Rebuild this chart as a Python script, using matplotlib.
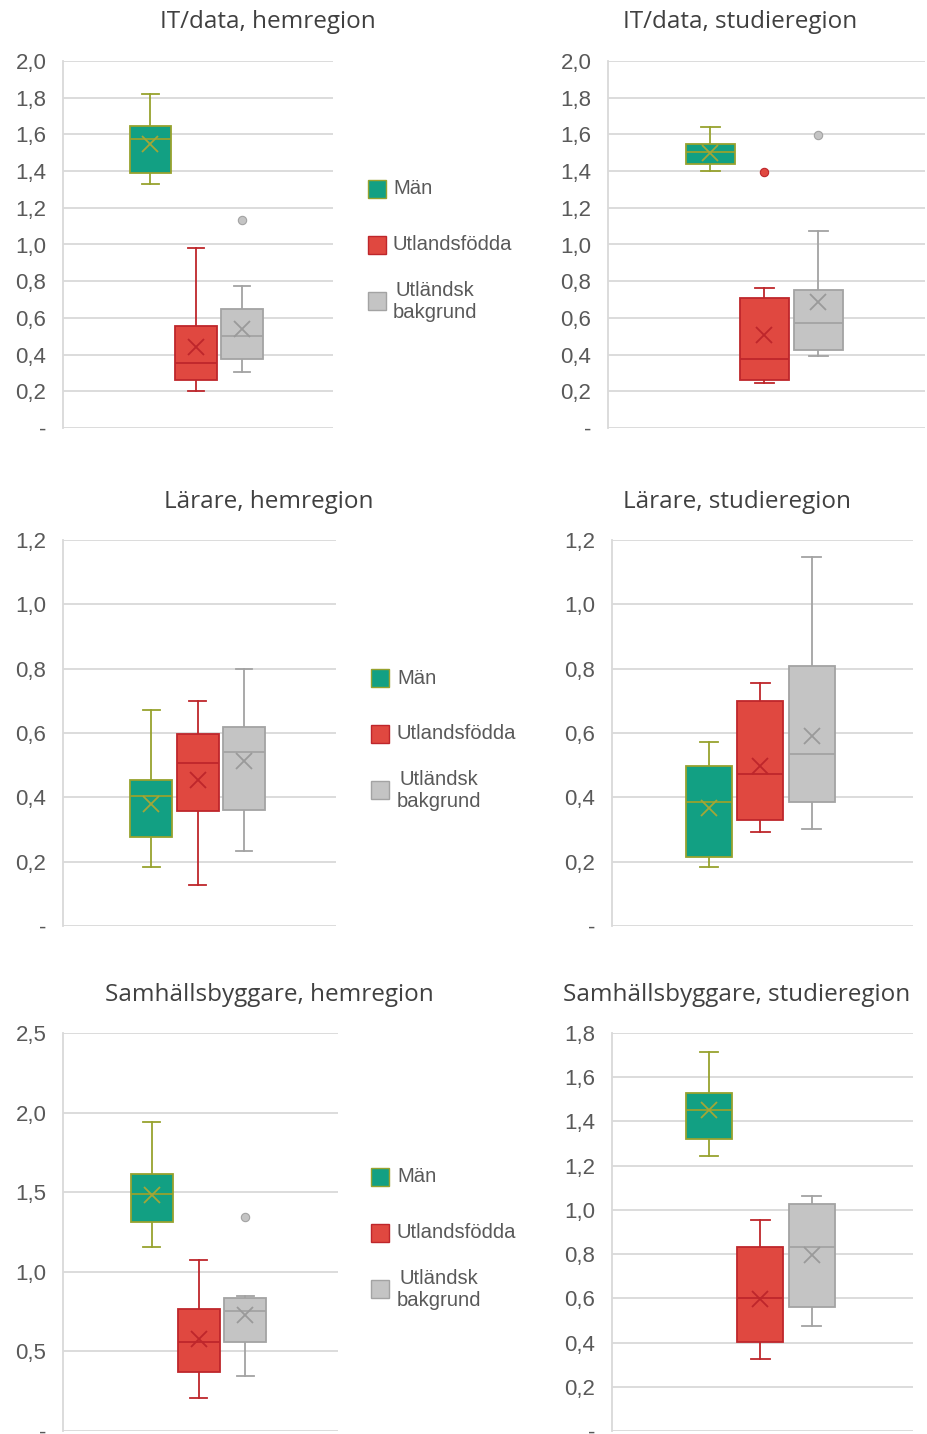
import matplotlib
matplotlib.use('Agg')
import matplotlib.pyplot as plt
from matplotlib.patches import Rectangle
from matplotlib.ticker import FuncFormatter, MultipleLocator

W, H = 927, 1434

groups = ['Män', 'Utlandsfödda', 'Utländsk\nbakgrund']
face_colors = ['#12A083', '#E04840', '#C4C4C4']
edge_colors = ['#97A22E', '#BE262B', '#A3A3A3']
mean_colors = ['#A3A637', '#BE262B', '#9A9A9A']

# per group: whisker low, q1, median, q3, whisker high, mean
it_hem = [[1.33, 1.39, 1.575, 1.648, 1.82, 1.55],
          [0.20, 0.262, 0.356, 0.555, 0.983, 0.439],
          [0.307, 0.374, 0.502, 0.650, 0.773, 0.537]]
it_hem_fliers = [[], [], [1.133]]

it_stud = [[1.403, 1.437, 1.506, 1.548, 1.641, 1.497],
           [0.245, 0.263, 0.377, 0.708, 0.762, 0.508],
           [0.394, 0.426, 0.572, 0.751, 1.071, 0.684]]
it_stud_fliers = [[], [1.396], [1.597]]

lar_hem = [[0.182, 0.278, 0.405, 0.455, 0.673, 0.380],
           [0.127, 0.359, 0.507, 0.598, 0.700, 0.455],
           [0.232, 0.361, 0.541, 0.619, 0.800, 0.512]]
lar_hem_fliers = [[], [], []]

lar_stud = [[0.184, 0.213, 0.387, 0.496, 0.571, 0.367],
            [0.293, 0.331, 0.471, 0.700, 0.754, 0.498],
            [0.302, 0.384, 0.534, 0.807, 1.146, 0.592]]
lar_stud_fliers = [[], [], []]

sam_hem = [[1.154, 1.313, 1.486, 1.613, 1.939, 1.484],
           [0.209, 0.368, 0.556, 0.768, 1.077, 0.577],
           [0.343, 0.560, 0.752, 0.837, 0.848, 0.727]]
sam_hem_fliers = [[], [], [1.346]]

sam_stud = [[1.243, 1.320, 1.452, 1.530, 1.715, 1.450],
            [0.324, 0.401, 0.601, 0.833, 0.953, 0.599],
            [0.474, 0.563, 0.830, 1.027, 1.062, 0.796]]
sam_stud_fliers = [[], [], []]

# title, data, fliers, ymax, step, axes box in px (left, top, right, bottom), title centre x, y
panels = [
    ('IT/data, hemregion', it_hem, it_hem_fliers, 2.0, 0.2, (63, 61, 333, 428), 268, 22),
    ('IT/data, studieregion', it_stud, it_stud_fliers, 2.0, 0.2, (608, 61, 925, 428), 740, 22),
    ('Lärare, hemregion', lar_hem, lar_hem_fliers, 1.2, 0.2, (63, 540, 336, 926), 269, 502),
    ('Lärare, studieregion', lar_stud, lar_stud_fliers, 1.2, 0.2, (612, 540, 913, 926), 737, 502),
    ('Samhällsbyggare, hemregion', sam_hem, sam_hem_fliers, 2.5, 0.5, (63, 1033, 338, 1431), 269, 995),
    ('Samhällsbyggare, studieregion', sam_stud, sam_stud_fliers, 1.8, 0.2, (612, 1033, 913, 1431), 737, 995),
]

# legend rows: square left x, text x, first centre y
legend_rows = [(368, 393, 189), (371, 397, 678), (371, 397, 1177)]


def fmt(v, pos):
    if abs(v) < 1e-9:
        return '-'
    return ('%.1f' % v).replace('.', ',')


fig = plt.figure(figsize=(W / 100, H / 100), dpi=100)
fig.patch.set_facecolor('white')

for title, data, fliers, ymax, step, box, tx, ty in panels:
    l, t, r, b = box
    ax = fig.add_axes([l / W, 1 - b / H, (r - l) / W, (b - t) / H])
    stats = []
    for row, fl in zip(data, fliers):
        stats.append(dict(whislo=row[0], q1=row[1], med=row[2], q3=row[3],
                          whishi=row[4], mean=row[5], fliers=fl))
    bp = ax.bxp(stats, positions=[0, 1, 2], widths=0.9, patch_artist=True,
                showmeans=True, capwidths=0.36, manage_ticks=False)
    for i in range(3):
        bp['boxes'][i].set(facecolor=face_colors[i], edgecolor=edge_colors[i], linewidth=1.3, zorder=3)
        bp['medians'][i].set(color=edge_colors[i], linewidth=1.3, zorder=4)
        for k in (2 * i, 2 * i + 1):
            bp['whiskers'][k].set(color=edge_colors[i], linewidth=1.3, zorder=2)
            bp['caps'][k].set(color=edge_colors[i], linewidth=1.3, zorder=2)
        bp['means'][i].set(marker='x', markersize=11, markeredgewidth=1.3,
                           markeredgecolor=mean_colors[i], zorder=5)
        bp['fliers'][i].set(marker='o', markersize=6, markerfacecolor=face_colors[i],
                            markeredgecolor=edge_colors[i], markeredgewidth=0.8, zorder=5)
    ax.set_xlim(-1.9, 3.98)
    ax.set_ylim(0, ymax)
    ax.yaxis.set_major_locator(MultipleLocator(step))
    ax.yaxis.set_major_formatter(FuncFormatter(fmt))
    ax.grid(axis='y', color='#D9D9D9', linewidth=1.3, zorder=0)
    ax.set_axisbelow(True)
    ax.set_xticks([])
    for s in ('top', 'right', 'bottom'):
        ax.spines[s].set_visible(False)
    ax.spines['left'].set_color('#D9D9D9')
    ax.spines['left'].set_linewidth(1.3)
    ax.tick_params(axis='y', length=0, pad=12, labelsize=16, labelcolor='#595959')
    for lab in ax.get_yticklabels():
        lab.set_family('Liberation Sans')
    fig.text(tx / W, 1 - ty / H, title, ha='center', va='center', fontsize=17.5,
             color='#404040', family='Open Sans')

for sx, txx, y0 in legend_rows:
    for i, name in enumerate(groups):
        cy = y0 + i * 56
        fig.patches.append(Rectangle((sx / W, 1 - (cy + 9) / H), 18 / W, 18 / H,
                                     transform=fig.transFigure, facecolor=face_colors[i],
                                     edgecolor=edge_colors[i], linewidth=1.0))
        fig.text(txx / W, 1 - cy / H, name, ha='left', va='center', fontsize=14.6,
                 color='#595959', family='Liberation Sans', multialignment='center',
                 linespacing=1.2)

fig.savefig('out.png', dpi=100)
